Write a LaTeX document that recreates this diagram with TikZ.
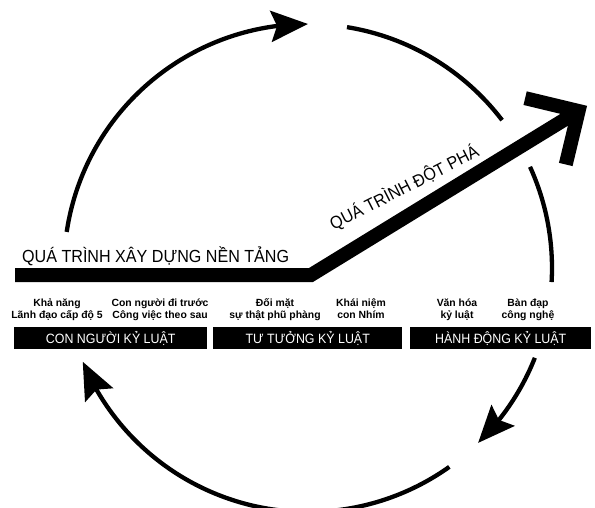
\documentclass[tikz,border=0pt]{standalone}
\usepackage{fontspec}
\setmainfont{Liberation Sans}
\newfontfamily\bigfont[FakeStretch=0.92]{Liberation Sans}
\usetikzlibrary{arrows.meta,calc,bending}
\begin{document}
\begin{tikzpicture}[x=1pt,y=-1pt,
  cyc/.style={line width=4.3pt},
  cyctip/.style={-{Stealth[length=37pt,width=31pt,inset=6pt]}},
  lbl/.style={font=\bfseries\fontsize{10.4}{12}\selectfont, align=center, anchor=base, inner sep=0pt},
  phase/.style={fill=black, text=white, minimum height=22pt, inner sep=0pt, font=\bigfont\fontsize{13.5}{15}\selectfont, anchor=north west},
  big/.style={font=\bigfont\fontsize{17.5}{20}\selectfont, inner sep=0pt},
  thick arrow/.style={line width=14pt, miter limit=10, line join=miter}]
\useasboundingbox (0,0) rectangle (595,508);
\clip (0,0) rectangle (595,508);
\coordinate (c) at (308,268);
\def\R{244}
% cycle arcs
\draw[cyc,cyctip] ($(c)+(188.5:\R)$) arc[start angle=188.5,end angle=270,radius=\R];
\draw[cyc] ($(c)+(279.2:\R)$) arc[start angle=279.2,end angle=322.7,radius=\R];
\draw[cyc] ($(c)+(335.5:\R)$) arc[start angle=335.5,end angle=363.3,radius=\R];
\draw[cyc,cyctip] ($(c)+(21.6:\R)$) arc[start angle=21.6,end angle=45.8,radius=\R];
\draw[cyc,cyctip] ($(c)+(54.6:\R)$) arc[start angle=54.6,end angle=157.4,radius=\R];
% big arrow
\coordinate (s) at (15,275);
\coordinate (p) at (311,275);
\coordinate (t) at (578.6,111);
\draw[thick arrow] (s) -- (p) -- (t);
\draw[thick arrow] ($(t)+(193.5:55)$) -- (t) -- ($(t)+(103.5:55)$);
% titles
\node[big, anchor=base west] (found) at (22,262) {QUÁ TRÌNH XÂY DỰNG NỀN TẢNG};
\node[big, anchor=base, rotate=27] (break) at (407,193) {QUÁ TRÌNH ĐỘT PHÁ};
% labels
\node[lbl] (l1) at (57,318) {Khả năng\\Lãnh đạo cấp độ 5};
\node[lbl] (l2) at (160,318) {Con người đi trước\\Công việc theo sau};
\node[lbl] (l3) at (275,318) {Đối mặt\\sự thật phũ phàng};
\node[lbl] (l4) at (361,318) {Khái niệm\\con Nhím};
\node[lbl] (l5) at (457,318) {Văn hóa\\kỷ luật};
\node[lbl] (l6) at (528,318) {Bàn đạp\\công nghệ};
% phase boxes
\node[phase, minimum width=193pt] (b1) at (14,327) {CON NGƯỜI KỶ LUẬT};
\node[phase, minimum width=189pt] (b2) at (213,327) {TƯ TƯỞNG KỶ LUẬT};
\node[phase, minimum width=181pt] (b3) at (410,327) {HÀNH ĐỘNG KỶ LUẬT};
\end{tikzpicture}
\end{document}
